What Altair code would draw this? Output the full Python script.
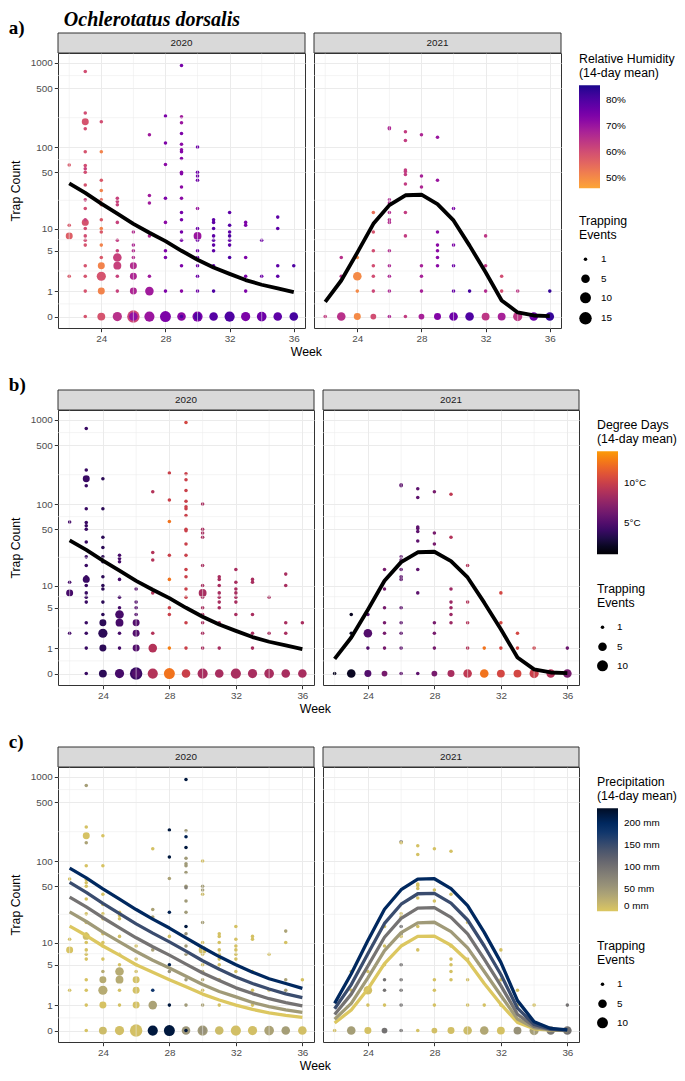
import altair as alt
import pandas as pd

# ---------------- data ----------------
WEEKS = list(range(22, 37))
X_BREAKS = [24, 28, 32, 36]
X_MINOR = [22, 26, 30, 34]
Y_BREAKS = [0, 1, 5, 10, 50, 100, 500, 1000]
Y_MINOR = [0.414, 2.46, 7.12, 22.7, 70.8, 224, 707]
PRECIP_LEVELS = [0, 50, 100, 150, 200]

# (week, trap count, trapping events, RH %, degree days, precipitation mm)
PTS_2020 = [
    (22, 61, 1, 58, 4.5, 4), (22, 11, 1, 58, 4.5, 6), (22, 8, 3, 57, 4.5, 4), (22, 2, 1, 58, 4.5, 6),
    (23, 790, 1, 60, 4, 45), (23, 255, 1, 60, 4, 6), (23, 200, 3, 59, 4, 5), (23, 165, 1, 60, 4, 40),
    (23, 88, 1, 59, 4, 5), (23, 60, 1, 60, 4, 5), (23, 55, 1, 62, 4, 5), (23, 50, 1, 60, 4, 6),
    (23, 35, 1, 59, 4, 5), (23, 23, 1, 62, 4, 6), (23, 18, 1, 60, 4, 5), (23, 13, 1, 62, 4, 6),
    (23, 12, 3, 59, 4, 12), (23, 10, 1, 60, 4, 5), (23, 8, 1, 60, 4, 5), (23, 7, 1, 60, 4, 6),
    (23, 6, 1, 59, 4, 5), (23, 3, 1, 59, 4, 5), (23, 2, 1, 59, 4, 5), (23, 1, 1, 59, 4, 5), (23, 0, 1, 59, 4, 5),
    (24, 200, 1, 60, 3.5, 4), (24, 88, 1, 51, 3.5, 4), (24, 40, 1, 58, 3.5, 5), (24, 30, 1, 51, 3.5, 4),
    (24, 23, 1, 55, 3.5, 5), (24, 20, 1, 56, 3.5, 5), (24, 13, 1, 58, 3.5, 4), (24, 10, 1, 51, 3.5, 4),
    (24, 9, 1, 58, 3.5, 5), (24, 6, 1, 51, 3.5, 4), (24, 4, 1, 58, 3.5, 30), (24, 3, 3, 51, 3.5, 30),
    (24, 2, 6, 59, 3.5, 30), (24, 1, 3, 51, 3.5, 5), (24, 0, 4, 59, 3.5, 12),
    (25, 24, 1, 62, 4.5, 6), (25, 22, 1, 62, 4.5, 6), (25, 20, 1, 62, 4.5, 6), (25, 12, 1, 62, 4.5, 6),
    (25, 7, 1, 63, 4.5, 6), (25, 5, 1, 62, 4.5, 6), (25, 4, 5, 62, 4.5, 30), (25, 3, 4, 62, 4.5, 30),
    (25, 2, 1, 62, 4.5, 6), (25, 1, 1, 62, 4.5, 6), (25, 0, 6, 65, 4.5, 8),
    (26, 9, 1, 66, 5, 6), (26, 6, 1, 67, 5, 6), (26, 5, 1, 66, 5, 6), (26, 4, 1, 66, 5, 6),
    (26, 3, 3, 66, 5, 6), (26, 2, 3, 67, 5, 6), (26, 1, 3, 67, 5, 6), (26, 0, 15, 61, 4, 8), (26, 0, 5, 71, 5, 6),
    (27, 140, 1, 69, 9, 6), (27, 26, 1, 69, 9, 40), (27, 21, 1, 69, 9, 40), (27, 8, 1, 67, 9, 40),
    (27, 2, 1, 69, 9, 180), (27, 1, 5, 69, 9, 40), (27, 0, 8, 70, 9, 220),
    (28, 235, 1, 74, 10, 220), (28, 112, 1, 74, 10, 220), (28, 62, 1, 72, 12.5, 40), (28, 24, 1, 74, 10, 210),
    (28, 12, 1, 72, 12.5, 6), (28, 5, 1, 74, 10, 210), (28, 4, 1, 74, 10, 60), (28, 1, 1, 74, 13, 220),
    (28, 0, 10, 74, 12.5, 220),
    (29, 930, 1, 75, 10.5, 220), (29, 230, 1, 69, 10, 50), (29, 195, 1, 70, 10, 210), (29, 145, 1, 74, 10, 220),
    (29, 108, 1, 72, 10, 50), (29, 93, 1, 72, 10, 50), (29, 88, 1, 73, 10, 50), (29, 73, 1, 73, 10, 50),
    (29, 50, 1, 72, 10, 50), (29, 48, 1, 73, 10, 80), (29, 33, 1, 72, 10, 50), (29, 24, 1, 72, 10, 50),
    (29, 16, 1, 75, 10, 220), (29, 13, 1, 75, 10, 60), (29, 9, 1, 75, 10, 50), (29, 7, 1, 75, 10, 50),
    (29, 3, 1, 74, 10, 50), (29, 1, 1, 72, 10, 50), (29, 0, 5, 72, 10, 55), (29, 0, 1, 80, 10, 220),
    (30, 100, 1, 76, 8.5, 8), (30, 50, 1, 76, 8.5, 45), (30, 45, 1, 76, 8.5, 45), (30, 40, 1, 76, 8.5, 12),
    (30, 18, 1, 70, 8.5, 45), (30, 10, 1, 76, 8.5, 8), (30, 8, 4, 70, 8.5, 8), (30, 7, 1, 76, 8.5, 8),
    (30, 5, 1, 76, 8.5, 8), (30, 4, 1, 76, 8.5, 35), (30, 3, 1, 76, 8.5, 35), (30, 2, 1, 76, 8.5, 8),
    (30, 1, 1, 76, 8.5, 40), (30, 0, 8, 74, 8.5, 50), (30, 0, 3, 80, 8.5, 60),
    (31, 13, 1, 78, 8.5, 6), (31, 12, 1, 78, 8.5, 6), (31, 10, 1, 79, 8.5, 6), (31, 8, 1, 78, 8.5, 6),
    (31, 7, 1, 78, 8.5, 6), (31, 6, 1, 78, 8.5, 6), (31, 5, 1, 78, 8.5, 6), (31, 3, 1, 78, 8.5, 6),
    (31, 1, 1, 80, 8.5, 6), (31, 0, 5, 79, 8.5, 12),
    (32, 16, 1, 78, 8.5, 6), (32, 11, 1, 79, 8.5, 6), (32, 9, 1, 78, 8.5, 6), (32, 8, 1, 80, 8.5, 6),
    (32, 7, 1, 78, 8.5, 6), (32, 6, 1, 78, 8.5, 6), (32, 4, 1, 80, 8.5, 8), (32, 0, 8, 80, 8.5, 8),
    (33, 12, 1, 74, 8.5, 6), (33, 11, 1, 74, 8.5, 6), (33, 4, 1, 74, 8.5, 6), (33, 2, 1, 74, 8.5, 6),
    (33, 1, 1, 74, 8.5, 6), (33, 0, 6, 74, 8.5, 8),
    (34, 7, 1, 76, 8.5, 6), (34, 2, 1, 76, 8.5, 6), (34, 0, 7, 76, 8.5, 40),
    (35, 14, 1, 78, 8.5, 40), (35, 10, 1, 78, 8.5, 6), (35, 3, 1, 78, 8.5, 40), (35, 2, 1, 78, 8.5, 40),
    (35, 0, 5, 78, 8.5, 45),
    (36, 3, 1, 80, 8.5, 6), (36, 0, 5, 81, 8.5, 8),
]

PTS_2021 = [
    (22, 0, 1, 63, 2, 8),
    (23, 4, 1, 65, 2, 6), (23, 2, 1, 65, 2, 6), (23, 0, 5, 65, 2, 45),
    (24, 4, 1, 50, 5, 6), (24, 2, 5, 50, 5, 8), (24, 1, 1, 50, 5, 6), (24, 0, 3, 50, 5, 6),
    (25, 16, 1, 54, 6.5, 6), (25, 9, 1, 59, 6.5, 6), (25, 5, 1, 60, 6.5, 6), (25, 3, 1, 60, 6.5, 100),
    (25, 2, 1, 60, 6.5, 100), (25, 1, 1, 61, 6.5, 6), (25, 0, 2, 60, 6.5, 100),
    (26, 170, 1, 67, 5.5, 100), (26, 165, 1, 67, 5.5, 8), (26, 23, 1, 67, 5.5, 6), (26, 21, 1, 67, 5.5, 6),
    (26, 16, 1, 66, 5.5, 100), (26, 13, 1, 66, 5.5, 100), (26, 12, 1, 66, 5.5, 6), (26, 5, 1, 66, 5.5, 100),
    (26, 3, 1, 67, 5.5, 100), (26, 2, 1, 67, 5.5, 100), (26, 1, 1, 67, 5.5, 100), (26, 0, 1, 67, 5.5, 100),
    (27, 152, 1, 63, 5.5, 6), (27, 120, 1, 63, 5.5, 6), (27, 53, 1, 63, 5.5, 6), (27, 51, 1, 63, 5.5, 6),
    (27, 47, 1, 63, 5.5, 6), (27, 36, 1, 63, 5.5, 6), (27, 16, 1, 63, 5.5, 6), (27, 8, 1, 63, 5.5, 6),
    (27, 0, 1, 63, 5.5, 6),
    (28, 140, 1, 67, 6.5, 6), (28, 45, 1, 68, 6.5, 6), (28, 33, 1, 67, 6.5, 6), (28, 3, 1, 68, 6.5, 6),
    (28, 2, 1, 68, 6.5, 6), (28, 1, 1, 68, 6.5, 6), (28, 0, 2, 68, 6.5, 8),
    (29, 131, 1, 70, 9.5, 6), (29, 40, 1, 70, 9, 8), (29, 9, 1, 72, 8, 6), (29, 6, 1, 72, 8, 6),
    (29, 5, 1, 72, 8, 6), (29, 4, 1, 72, 8, 6), (29, 3, 1, 72, 8, 6), (29, 0, 3, 73, 8.5, 8),
    (30, 18, 1, 74, 9, 6), (30, 6, 1, 74, 9, 6), (30, 3, 1, 76, 9, 8), (30, 1, 1, 77, 9, 8), (30, 0, 5, 76, 9.5, 12),
    (31, 1, 1, 81, 12.5, 6), (31, 0, 5, 80, 12.5, 35),
    (32, 8, 1, 64, 10.5, 6), (32, 3, 1, 64, 10.5, 6), (32, 1, 1, 66, 10.5, 6), (32, 0, 4, 64, 10.5, 6),
    (33, 2, 1, 60, 10.5, 6), (33, 1, 1, 60, 10.5, 6), (33, 0, 4, 68, 10.5, 60),
    (34, 1, 1, 64, 10, 6), (34, 0, 6, 64, 10, 45),
    (35, 0, 5, 76, 9, 90),
    (36, 1, 1, 83, 6, 100), (36, 0, 5, 83, 6.5, 100),
]

# model fits (weeks 22..36)
FIT_2020 = [36.5, 28.0, 20.7, 15.5, 11.5, 8.8, 6.8, 5.0, 3.7, 2.8, 2.2, 1.7, 1.38, 1.15, 0.95]
FIT_2021 = [0.49, 1.67, 4.7, 11.5, 19.8, 26.2, 26.6, 20.4, 12.7, 5.9, 2.34, 0.55, 0.12, 0.03, 0.01]

PFIT_2020_0 = [16.2, 12.3, 9.0, 6.8, 5.0, 3.9, 3.0, 2.3, 1.7, 1.3, 1.0, 0.78, 0.62, 0.51, 0.43]
PFIT_2020_50 = [24.3, 18.5, 13.6, 10.2, 7.6, 5.8, 4.5, 3.4, 2.5, 1.9, 1.5, 1.15, 0.92, 0.76, 0.64]
PFIT_2020_100 = [36.8, 28.0, 20.6, 15.4, 11.5, 8.8, 6.8, 5.1, 3.8, 2.9, 2.2, 1.74, 1.38, 1.14, 0.96]
PFIT_2020_150 = [55.6, 42.0, 31.0, 23.2, 17.3, 13.2, 10.2, 7.7, 5.7, 4.3, 3.3, 2.6, 2.1, 1.72, 1.45]
PFIT_2020_200 = [82.3, 63.0, 46.5, 34.8, 26.0, 19.8, 15.3, 11.5, 8.6, 6.5, 5.0, 3.9, 3.1, 2.6, 2.15]

PFIT_2021_0 = [0.23, 0.75, 2.1, 5.2, 9.0, 12.0, 12.1, 9.2, 5.7, 2.6, 1.05, 0.25, 0.05, 0.01, 0.0]
PFIT_2021_50 = [0.36, 1.1, 3.2, 7.8, 13.4, 17.8, 18.1, 13.8, 8.5, 4.0, 1.6, 0.37, 0.08, 0.02, 0.01]
PFIT_2021_100 = [0.55, 1.7, 4.8, 11.7, 20.2, 27.0, 27.4, 20.8, 12.9, 6.0, 2.4, 0.56, 0.12, 0.03, 0.01]
PFIT_2021_150 = [0.81, 2.5, 7.1, 17.5, 30.2, 40.5, 41.0, 31.2, 19.3, 9.0, 3.6, 0.84, 0.18, 0.04, 0.01]
PFIT_2021_200 = [1.1, 3.7, 10.6, 26.2, 45.3, 60.9, 61.5, 46.8, 29.0, 13.5, 5.4, 1.26, 0.27, 0.06, 0.02]

# ---------------- tables ----------------
COLS = ["week", "count", "events", "rh", "dd", "precip"]


def pts_table(rows, year):
    df = pd.DataFrame(rows, columns=COLS)
    df["year"] = year
    return df.sort_values("events", ascending=False, kind="stable")


PTS = {2020: pts_table(PTS_2020, 2020), 2021: pts_table(PTS_2021, 2021)}
FIT = {y: pd.DataFrame({"week": WEEKS, "fit": f}) for y, f in [(2020, FIT_2020), (2021, FIT_2021)]}
PFIT_LISTS = {
    2020: [PFIT_2020_0, PFIT_2020_50, PFIT_2020_100, PFIT_2020_150, PFIT_2020_200],
    2021: [PFIT_2021_0, PFIT_2021_50, PFIT_2021_100, PFIT_2021_150, PFIT_2021_200],
}
PFIT = {
    y: pd.DataFrame(
        [(lvl, w, v) for lvl, vals in zip(PRECIP_LEVELS, lists) for w, v in zip(WEEKS, vals)],
        columns=["plevel", "week", "fit"],
    )
    for y, lists in PFIT_LISTS.items()
}
MINOR_X = pd.DataFrame({"week": X_MINOR})
MINOR_Y = pd.DataFrame({"count": Y_MINOR})

# ---------------- style ----------------
SANS = "Liberation Sans"
SERIF = "Liberation Serif"
GRID = "#EBEBEB"
DARK = "#333333"
H = 275
STRIP_H = 20
GAP = 7

XS = alt.Scale(domain=[21.3, 36.7], nice=False, zero=False)
YS = alt.Scale(type="symlog", constant=1, domain=[-0.365, 1308], nice=False, zero=False)

ROWS = {
    "a": dict(
        label="a)", W=247, field="rh", domain=[45.9, 85.6],
        scheme=alt.SchemeParams(name="plasma", extent=[0.8, 0.02]),
        title=["Relative Humidity", "(14-day mean)"], values=[50, 60, 70, 80],
        expr="datum.value + '%'", ly=0, sy=162, svals=[1, 5, 10, 15],
    ),
    "b": dict(
        label="b)", W=256, field="dd", domain=[1.0, 14.0],
        scheme=alt.SchemeParams(name="inferno", extent=[0.0, 0.78]),
        title=["Degree Days", "(14-day mean)"], values=[5, 10],
        expr="datum.value + '°C'", ly=9, sy=173, svals=[1, 5, 10],
    ),
    "c": dict(
        label="c)", W=256, field="precip", domain=[0, 234],
        scheme=alt.SchemeParams(name="cividis", extent=[0.87, -0.1]),
        title=["Precipitation", "(14-day mean)"], values=[0, 50, 100, 150, 200],
        expr="datum.value + ' mm'", ly=9, sy=173, svals=[1, 5, 10],
    ),
}


def color_scale(spec, domain=None):
    return alt.Scale(domain=domain or spec["domain"], scheme=spec["scheme"], nice=False, zero=False, clamp=True)


def color_enc(spec):
    W = spec["W"]
    return alt.Color(
        f"{spec['field']}:Q",
        scale=color_scale(spec),
        legend=alt.Legend(
            title=spec["title"], orient="none", legendX=2 * W + GAP + 20, legendY=spec["ly"],
            type="gradient", direction="vertical", gradientLength=103, gradientThickness=21,
            gradientStrokeWidth=0, values=spec["values"], labelExpr=spec["expr"],
            titlePadding=6, labelOffset=6,
        ),
    )


def size_enc(spec):
    W = spec["W"]
    return alt.Size(
        "events:Q",
        scale=alt.Scale(type="sqrt", domain=[1, 16], range=[12.6, 161], zero=False, nice=False),
        legend=alt.Legend(
            title=["Trapping", "Events"], orient="none", legendX=2 * W + GAP + 20, legendY=spec["sy"],
            values=spec["svals"], symbolType="circle", symbolFillColor="black", symbolStrokeWidth=0,
            symbolOpacity=1, rowPadding=8.5, titlePadding=13, labelOffset=9,
        ),
    )


def panel(key, year):
    spec = ROWS[key]
    W = spec["W"]
    first = year == 2020
    xaxis = alt.Axis(
        values=X_BREAKS, tickCount=20, grid=True, gridColor=GRID, gridWidth=1, domain=False,
        tickColor=DARK, tickSize=3.7, labelColor="#4D4D4D", labelFontSize=9.9,
        labelFlush=False, labelOverlap=False, labelPadding=1.5, title=None,
    )
    if first:
        yaxis = alt.Axis(
            values=Y_BREAKS, tickCount=20, labelExpr="'' + datum.value", grid=True, gridColor=GRID,
            gridWidth=1, domain=False, tickColor=DARK, tickSize=3.7, labelColor="#4D4D4D",
            labelFontSize=9.9, labelFlush=False, labelOverlap=False, labelPadding=2,
            title="Trap Count", titlePadding=8,
        )
    else:
        yaxis = alt.Axis(values=Y_BREAKS, tickCount=20, grid=True, gridColor=GRID, gridWidth=1,
                         domain=False, ticks=False, labels=False, title=None)

    strip_df = pd.DataFrame({"label": [str(year)]})
    strip_bg = alt.Chart(strip_df).mark_rect(fill="#D9D9D9", stroke=DARK, strokeWidth=1).encode(
        x=alt.value(0), x2=alt.value(W), y=alt.value(-STRIP_H), y2=alt.value(0))
    strip_txt = alt.Chart(strip_df).mark_text(font=SANS, fontSize=9.9, color="#1A1A1A").encode(
        text="label:N", x=alt.value(W / 2), y=alt.value(-STRIP_H / 2))

    minor_x = alt.Chart(MINOR_X).mark_rule(color=GRID, strokeWidth=0.55).encode(
        x=alt.X("week:Q", scale=XS))
    minor_y = alt.Chart(MINOR_Y).mark_rule(color=GRID, strokeWidth=0.55).encode(
        y=alt.Y("count:Q", scale=YS))
    points = alt.Chart(PTS[year]).mark_circle(opacity=1).encode(
        x=alt.X("week:Q", scale=XS, axis=xaxis),
        y=alt.Y("count:Q", scale=YS, axis=yaxis),
        color=color_enc(spec),
        size=size_enc(spec),
    )
    if key == "c":
        line = alt.Chart(PFIT[year]).mark_line(strokeWidth=3.3, strokeJoin="round").encode(
            x=alt.X("week:Q", scale=XS),
            y=alt.Y("fit:Q", scale=YS),
            # same colour mapping as the points (domain end nudged so the legends stay separate)
            stroke=alt.Stroke("plevel:Q", scale=color_scale(spec, [0, 234.0001]), legend=None),
            detail="plevel:Q",
        )
    else:
        line = alt.Chart(FIT[year]).mark_line(color="black", strokeWidth=3.8, strokeJoin="round").encode(
            x=alt.X("week:Q", scale=XS),
            y=alt.Y("fit:Q", scale=YS),
        )
    return alt.layer(points, minor_x, minor_y, strip_bg, strip_txt, line).properties(width=W, height=H)


def row(key):
    inner = alt.hconcat(
        panel(key, 2020), panel(key, 2021), spacing=GAP,
        title=alt.TitleParams(text="Week", orient="bottom", anchor="middle", font=SANS, fontSize=12.3,
                              fontWeight="normal", color="black", offset=2, dx=21),
    )
    return alt.vconcat(
        inner,
        title=alt.TitleParams(text=ROWS[key]["label"], font=SERIF, fontSize=19, fontWeight="bold",
                              anchor="start", color="black", offset=-6),
    )


chart = alt.vconcat(
    row("a"), row("b"), row("c"), spacing=18,
    title=alt.TitleParams(text="Ochlerotatus dorsalis", font=SERIF, fontSize=20, fontWeight="bold",
                          fontStyle="italic", anchor="start", dx=55, offset=-11, color="black"),
).resolve_scale(color="independent", size="independent", stroke="independent").properties(
    padding={"left": 0, "top": 2, "right": 0, "bottom": 0}
).configure_view(stroke=DARK, strokeWidth=1).configure_axis(
    labelFont=SANS, titleFont=SANS, titleFontSize=12.3, titleFontWeight="normal", titleColor="black",
).configure_legend(
    titleFont=SANS, labelFont=SANS, titleFontSize=12.3, titleFontWeight="normal", titleColor="black",
    labelFontSize=9.9, labelColor="black", titleLineHeight=14, titleLimit=200,
)

chart.save("out.html", embed_options={"renderer": "svg", "actions": False})
